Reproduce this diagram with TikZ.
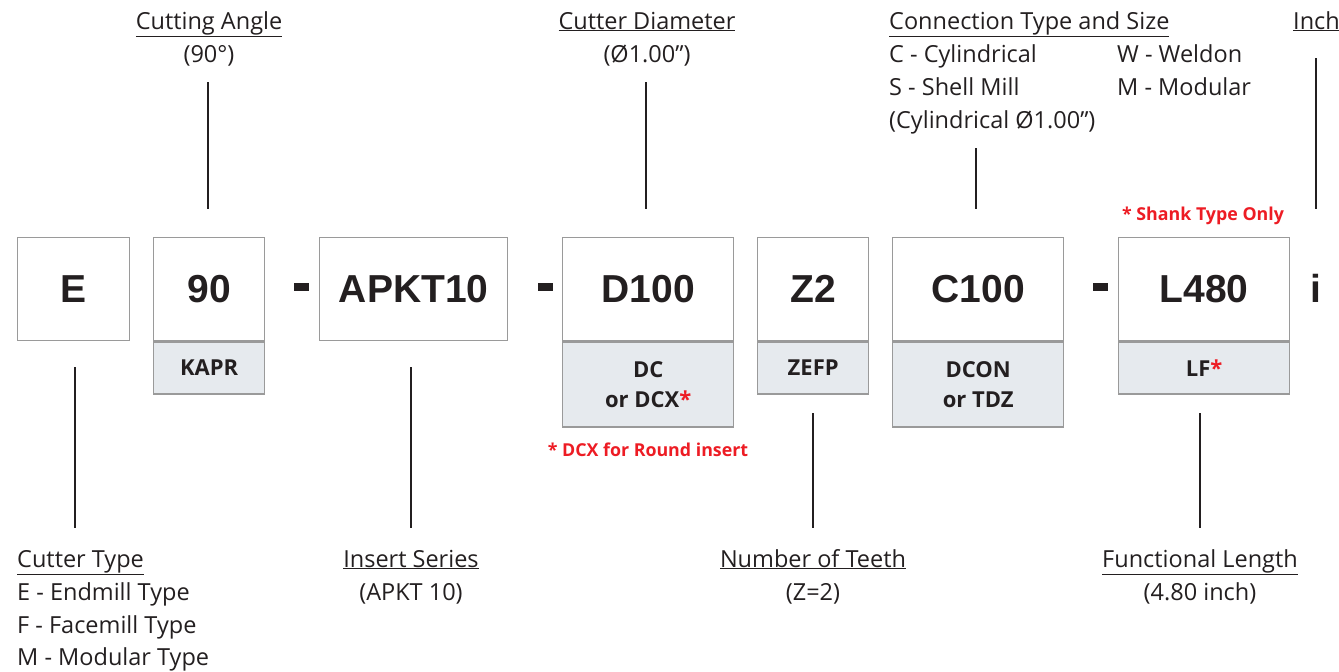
\documentclass[tikz,border=0pt]{standalone}
\usepackage{fontspec}
\setmainfont{Open Sans}
\newfontfamily\codefont{Liberation Sans}
\definecolor{boxgray}{HTML}{9A9A9A}
\definecolor{subfill}{HTML}{E6EAEE}
\definecolor{ink}{HTML}{231F20}
\definecolor{redmark}{HTML}{ED1C24}
\tikzset{
  codebox/.style={draw=boxgray, line width=1.4pt, fill=white, minimum width=#1, minimum height=103, inner sep=0,
    anchor=north west, text=ink, font=\codefont\bfseries\fontsize{39}{39}\selectfont},
  subbox/.style 2 args={draw=boxgray, line width=1.4pt, fill=subfill, minimum width=#1, minimum height=#2, inner sep=0,
    anchor=north, text=ink, align=center, font=\bfseries\fontsize{22}{30}\selectfont},
  lbl/.style={text=ink, font=\fontsize{23.5}{33}\selectfont, inner sep=0},
  redlbl/.style={text=redmark, font=\bfseries\fontsize{17.8}{19}\selectfont, inner sep=0},
  dashbar/.style={fill=ink, minimum width=15, minimum height=8, inner sep=0},
  leader/.style={draw=ink, line width=1.1pt},
}
\begin{document}
\begin{tikzpicture}[x=1pt,y=-1pt]
\useasboundingbox (0,0) rectangle (1339,672);
% boxes
\node[codebox=112] (E) at (17,237) {E};
\node[codebox=111] (n90) at (153,237) {90};
\node[subbox={111}{52}] (kapr) at (n90.south) {KAPR};
\node[dashbar] (d1) at (301,287) {};
\node[codebox=188] (apkt) at (319,237) {APKT10};
\node[dashbar] (d2) at (545,287) {};
\node[codebox=171] (d100) at (562,237) {D100};
\node[subbox={171}{85}] (dc) at (d100.south) {DC\\or DCX\textcolor{redmark}{*}};
\node[codebox=111] (z2) at (757,237) {Z2};
\node[subbox={111}{52}] (zefp) at (z2.south) {ZEFP};
\node[codebox=171] (c100) at (892,237) {C100};
\node[subbox={171}{85}] (dcon) at (c100.south) {DCON\\or TDZ};
\node[dashbar] (d3) at (1100,287) {};
\node[codebox=171] (l480) at (1118,237) {L480};
\node[subbox={171}{52}] (lf) at (l480.south) {LF\textcolor{redmark}{*}};
\node[text=ink, font=\codefont\bfseries\fontsize{39}{39}\selectfont, inner sep=0] (inch) at (1316,288) {i};
% red notes
\node[redlbl, anchor=base] (dcxnote) at (648,456) {* DCX for Round insert};
\node[redlbl, anchor=base] (shanknote) at (1203,220) {* Shank Type Only};
% top labels
\node[lbl, anchor=base] (angT) at (209,29) {\underline{Cutting Angle}};
\node[lbl, anchor=base] (angV) at (209,62) {(90°)};
\node[lbl, anchor=base] (diaT) at (647,29) {\underline{Cutter Diameter}};
\node[lbl, anchor=base] (diaV) at (647,62) {(Ø1.00”)};
\node[lbl, anchor=base west] (conT) at (889,29) {\underline{Connection Type and Size}};
\node[lbl, anchor=base west] (conC) at (889,62) {C - Cylindrical};
\node[lbl, anchor=base west] (conS) at (889,95) {S - Shell Mill};
\node[lbl, anchor=base west] (conV) at (889,128) {(Cylindrical Ø1.00”)};
\node[lbl, anchor=base west] (conW) at (1117,62) {W - Weldon};
\node[lbl, anchor=base west] (conM) at (1117,95) {M - Modular};
\node[lbl, anchor=base west] (inchT) at (1293,29) {\underline{Inch}};
% bottom labels
\node[lbl, anchor=base west] (ctT) at (17,567) {\underline{Cutter Type}};
\node[lbl, anchor=base west] (ctE) at (17,600) {E - Endmill Type};
\node[lbl, anchor=base west] (ctF) at (17,633) {F - Facemill Type};
\node[lbl, anchor=base west] (ctM) at (17,665) {M - Modular Type};
\node[lbl, anchor=base] (isT) at (411,567) {\underline{Insert Series}};
\node[lbl, anchor=base] (isV) at (411,600) {(APKT 10)};
\node[lbl, anchor=base] (ntT) at (813,567) {\underline{Number of Teeth}};
\node[lbl, anchor=base] (ntV) at (813,600) {(Z=2)};
\node[lbl, anchor=base] (flT) at (1200,567) {\underline{Functional Length}};
\node[lbl, anchor=base] (flV) at (1200,600) {(4.80 inch)};
% leader end points
\coordinate (a1) at (208,82);  \coordinate (a2) at (208,209);
\coordinate (b1) at (646,82);  \coordinate (b2) at (646,209);
\coordinate (c1) at (976,148); \coordinate (c2) at (976,209);
\coordinate (i1) at (1316,58); \coordinate (i2) at (1316,209);
\coordinate (e1) at (75,367);  \coordinate (e2) at (75,528);
\coordinate (s1) at (411,367); \coordinate (s2) at (411,528);
\coordinate (t1) at (813,413); \coordinate (t2) at (813,528);
\coordinate (f1) at (1200,413); \coordinate (f2) at (1200,528);
\draw[leader] (a1) -- (a2);
\draw[leader] (b1) -- (b2);
\draw[leader] (c1) -- (c2);
\draw[leader] (i1) -- (i2);
\draw[leader] (e1) -- (e2);
\draw[leader] (s1) -- (s2);
\draw[leader] (t1) -- (t2);
\draw[leader] (f1) -- (f2);
\end{tikzpicture}
\end{document}
